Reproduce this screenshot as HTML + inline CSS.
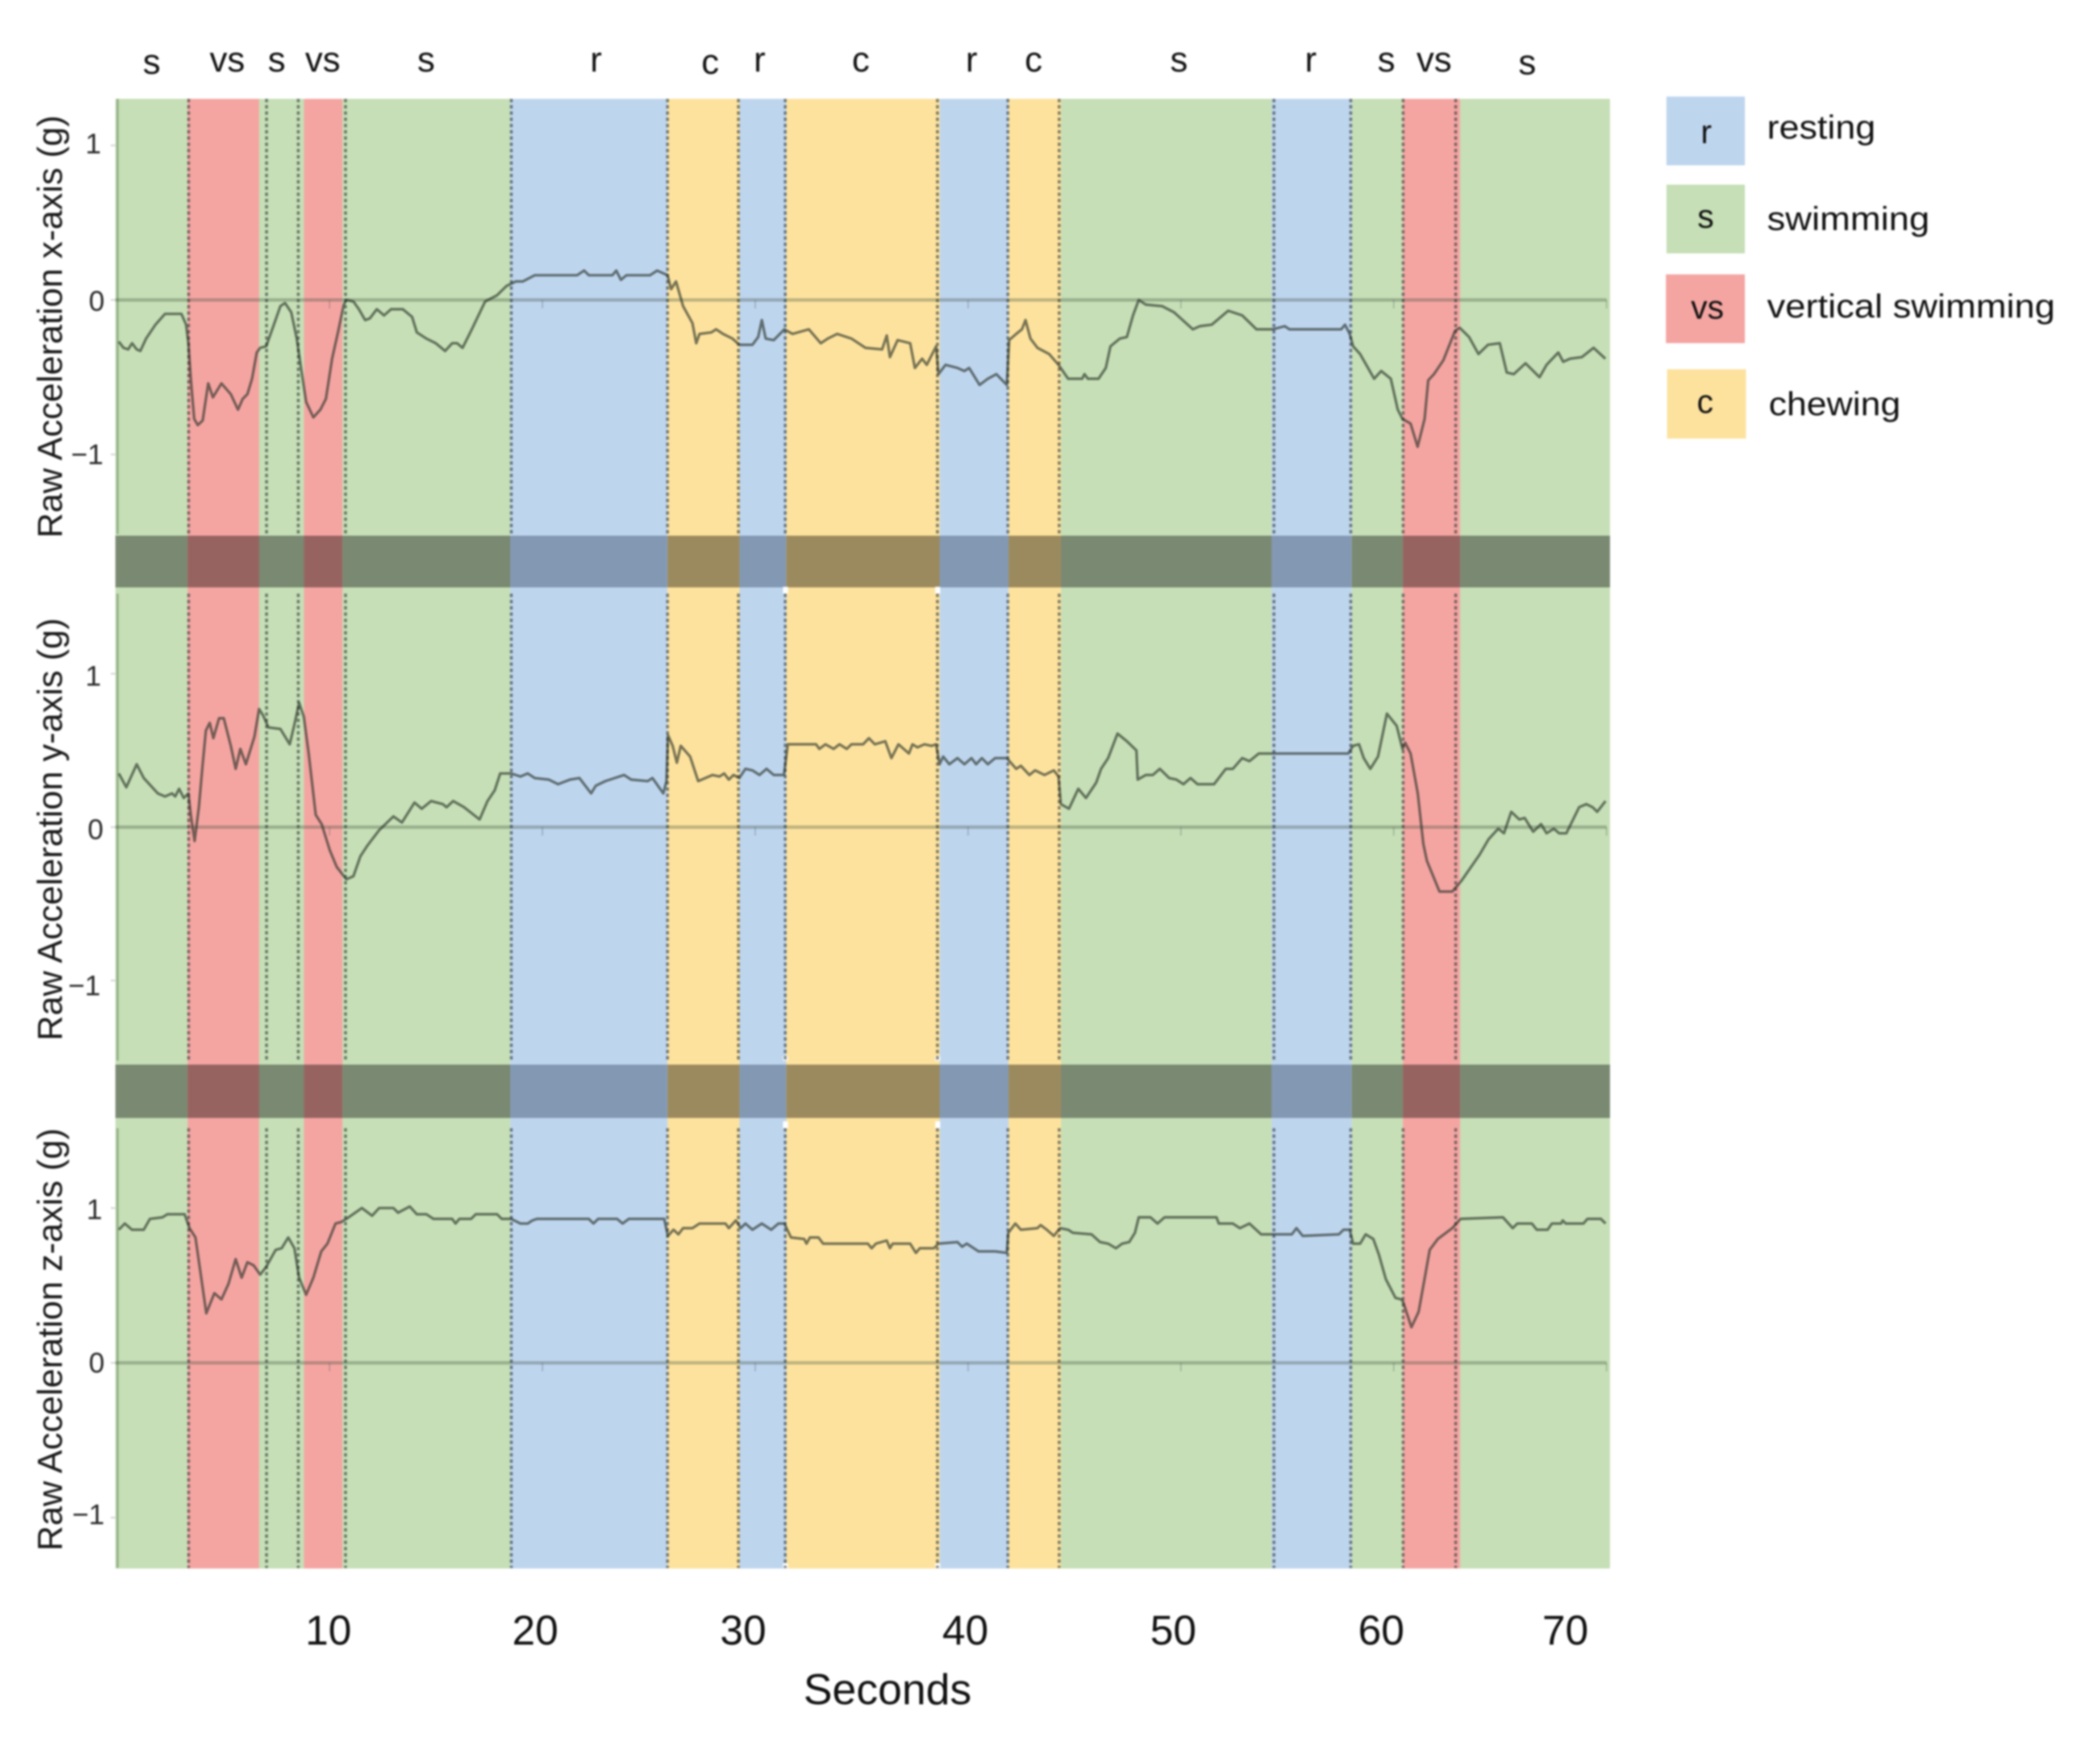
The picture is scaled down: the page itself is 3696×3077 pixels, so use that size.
<!DOCTYPE html>
<html lang="en">
<head>
<meta charset="utf-8">
<title>Raw acceleration by behaviour</title>
<style>
  html, body { margin: 0; padding: 0; background: #fff; }
  svg { display: block; }
  text { font-family: "Liberation Sans", sans-serif; fill: #111; }
  .soft { filter: blur(1.7px); }
  .ytick { font-size: 50px; fill: #2a2a2a; text-anchor: end; }
  .ytitle { font-size: 61px; text-anchor: middle; fill: #1a1a1a; }
  .xtick { font-size: 73px; text-anchor: middle; }
  .top { font-size: 62px; text-anchor: middle; }
  .leg { font-size: 58px; }
  .swl { font-size: 58px; text-anchor: middle; }
</style>
</head>
<body>
<svg id="chart" xmlns="http://www.w3.org/2000/svg" width="3696" height="3077" viewBox="0 0 3696 3077">
  <g id="plot" class="soft"></g>

  <g class="soft">
    <text class="top" x="267" y="130">s</text>
    <text class="top" x="400" y="126">vs</text>
    <text class="top" x="487" y="126">s</text>
    <text class="top" x="568" y="126">vs</text>
    <text class="top" x="750" y="126">s</text>
    <text class="top" x="1049" y="126">r</text>
    <text class="top" x="1250" y="130">c</text>
    <text class="top" x="1337" y="126">r</text>
    <text class="top" x="1515" y="126">c</text>
    <text class="top" x="1710" y="126">r</text>
    <text class="top" x="1819" y="126">c</text>
    <text class="top" x="2075" y="126">s</text>
    <text class="top" x="2307" y="126">r</text>
    <text class="top" x="2440" y="126">s</text>
    <text class="top" x="2524" y="126">vs</text>
    <text class="top" x="2688" y="131">s</text>
  </g>

  <g class="soft">
    <text class="ytitle" transform="translate(109,575) rotate(-90)" textLength="744" lengthAdjust="spacingAndGlyphs">Raw Acceleration x-axis (g)</text>
    <text class="ytitle" transform="translate(109,1460) rotate(-90)" textLength="744" lengthAdjust="spacingAndGlyphs">Raw Acceleration y-axis (g)</text>
    <text class="ytitle" transform="translate(109,2358) rotate(-90)" textLength="744" lengthAdjust="spacingAndGlyphs">Raw Acceleration z-axis (g)</text>

    <text class="ytick" x="178" y="270">1</text>
    <text class="ytick" x="184" y="547">0</text>
    <text class="ytick" x="182" y="817">−1</text>
    <text class="ytick" x="178" y="1207">1</text>
    <text class="ytick" x="182" y="1477">0</text>
    <text class="ytick" x="177" y="1752">−1</text>
    <text class="ytick" x="180" y="2146">1</text>
    <text class="ytick" x="184" y="2416">0</text>
    <text class="ytick" x="184" y="2683">−1</text>
  </g>

  <g class="soft">
    <text class="xtick" x="578" y="2895">10</text>
    <text class="xtick" x="942" y="2895">20</text>
    <text class="xtick" x="1308" y="2895">30</text>
    <text class="xtick" x="1699" y="2895">40</text>
    <text class="xtick" x="2065" y="2895">50</text>
    <text class="xtick" x="2431" y="2895">60</text>
    <text class="xtick" x="2755" y="2895">70</text>
    <text x="1562" y="3000" text-anchor="middle" font-size="76">Seconds</text>
  </g>

  <g class="soft">
    <g>
      <rect x="2933" y="170" width="138" height="121" fill="#bed5ee"/>
      <text class="swl" x="3003" y="252">r</text>
      <text class="leg" x="3110" y="244" textLength="191" lengthAdjust="spacingAndGlyphs">resting</text>
    </g>
    <g>
      <rect x="2933" y="325" width="138" height="121" fill="#c6dfb6"/>
      <text class="swl" x="3002" y="401">s</text>
      <text class="leg" x="3110" y="405" textLength="286" lengthAdjust="spacingAndGlyphs">swimming</text>
    </g>
    <g>
      <rect x="2932" y="483" width="139" height="121" fill="#f4a5a2"/>
      <text class="swl" x="3005" y="561">vs</text>
      <text class="leg" x="3110" y="559" textLength="507" lengthAdjust="spacingAndGlyphs">vertical swimming</text>
    </g>
    <g>
      <rect x="2934" y="650" width="139" height="122" fill="#fde29e"/>
      <text class="swl" x="3001" y="727">c</text>
      <text class="leg" x="3113" y="731" textLength="232" lengthAdjust="spacingAndGlyphs">chewing</text>
    </g>
  </g>
</svg>

<script>
// ---- data ----
const segmentKinds = ['s','vs','s','vs','s','r','c','r','c','r','c','s','r','s','vs','s'];
const segmentEnds = [3.33,6.69,8.80,10.61,18.49,25.88,29.26,31.46,38.67,41.90,44.37,54.26,58.03,60.43,63.12,70.16];
const recordingStart = -0.06;
const boundaryTimes = [0.04,3.38,7.04,8.53,10.75,18.54,25.88,29.21,31.41,38.56,41.87,44.28,54.37,57.98,60.44,62.91];
const gapTimes = [31.41,38.56];
const tickSeconds = [10,20,30,40,50,60,70];

const timeX = [0.10,0.32,0.54,0.72,0.94,1.11,1.38,1.82,2.27,3.04,3.26,3.37,3.48,3.64,3.81,4.04,4.19,4.30,4.52,4.92,5.36,5.70,5.92,6.14,6.36,6.58,6.74,7.02,7.36,7.69,7.91,8.20,8.46,8.68,8.90,9.24,9.57,9.83,10.12,10.41,10.67,10.79,11.12,11.38,11.67,11.89,12.22,12.56,12.89,13.44,13.88,14.10,14.55,14.99,15.43,15.76,15.99,16.25,16.65,17.31,17.87,18.31,18.75,19.08,19.64,21.63,21.96,22.18,23.29,23.47,23.69,23.95,25.06,25.39,25.88,26.05,26.28,26.61,27.05,27.23,27.38,27.94,28.16,28.49,28.93,29.25,29.87,30.14,30.31,30.49,30.87,31.37,31.75,32.52,33.08,33.41,33.85,34.52,35.18,35.96,36.18,36.33,36.69,37.28,37.50,37.84,38.06,38.50,38.61,38.94,39.50,39.83,40.05,40.54,40.93,41.33,41.82,41.93,42.26,42.53,42.70,42.93,43.26,43.81,44.25,44.70,45.36,45.47,45.63,46.13,46.47,46.69,47.13,47.46,47.75,48.02,48.35,49.12,49.68,50.56,50.89,51.45,52.22,52.88,53.55,54.32,54.88,55.10,57.53,57.71,57.93,58.09,58.42,59.08,59.41,59.86,60.19,60.41,60.79,61.12,61.45,61.62,61.89,62.33,62.88,63.10,63.54,63.98,64.43,64.98,65.31,65.64,66.19,66.85,67.18,67.73,67.96,68.29,68.84,69.39,69.94];
const accelX = [-0.27,-0.31,-0.32,-0.28,-0.32,-0.33,-0.25,-0.16,-0.09,-0.09,-0.16,-0.28,-0.51,-0.77,-0.81,-0.78,-0.64,-0.54,-0.63,-0.54,-0.61,-0.71,-0.64,-0.61,-0.51,-0.34,-0.31,-0.30,-0.17,-0.04,-0.02,-0.08,-0.25,-0.46,-0.66,-0.76,-0.71,-0.64,-0.38,-0.20,-0.03,0.00,-0.01,-0.06,-0.13,-0.12,-0.06,-0.10,-0.06,-0.06,-0.11,-0.21,-0.25,-0.28,-0.33,-0.28,-0.28,-0.31,-0.20,-0.01,0.03,0.09,0.12,0.12,0.16,0.16,0.19,0.16,0.16,0.19,0.13,0.16,0.16,0.19,0.16,0.07,0.12,-0.04,-0.15,-0.28,-0.22,-0.21,-0.19,-0.22,-0.25,-0.29,-0.29,-0.24,-0.13,-0.25,-0.26,-0.19,-0.22,-0.19,-0.28,-0.25,-0.22,-0.25,-0.31,-0.32,-0.23,-0.37,-0.26,-0.28,-0.44,-0.38,-0.42,-0.30,-0.48,-0.42,-0.44,-0.46,-0.44,-0.55,-0.51,-0.48,-0.55,-0.26,-0.22,-0.19,-0.13,-0.25,-0.31,-0.35,-0.42,-0.51,-0.51,-0.48,-0.51,-0.51,-0.44,-0.30,-0.25,-0.24,-0.10,0.00,-0.03,-0.04,-0.08,-0.19,-0.17,-0.16,-0.07,-0.10,-0.19,-0.19,-0.17,-0.19,-0.19,-0.16,-0.22,-0.30,-0.35,-0.51,-0.46,-0.51,-0.71,-0.77,-0.80,-0.95,-0.77,-0.52,-0.48,-0.39,-0.20,-0.18,-0.24,-0.35,-0.29,-0.28,-0.47,-0.48,-0.41,-0.50,-0.42,-0.34,-0.40,-0.38,-0.37,-0.31,-0.38];

const timeY = [0.10,0.45,0.94,1.27,1.93,2.27,2.60,2.75,2.93,3.15,3.37,3.48,3.66,3.86,4.04,4.19,4.37,4.54,4.81,5.03,5.36,5.59,5.81,6.07,6.47,6.69,6.87,7.13,7.69,8.13,8.35,8.57,8.79,9.02,9.35,9.63,10.01,10.34,10.79,11.12,11.45,11.78,12.33,13.00,13.40,13.99,14.33,14.77,15.32,15.50,15.81,16.32,17.05,17.42,17.76,18.02,18.53,18.97,19.31,19.64,20.30,20.74,21.30,21.74,22.29,22.51,22.96,23.84,24.17,24.95,25.17,25.68,25.83,25.90,26.12,26.32,26.50,26.94,27.32,27.99,28.32,28.54,28.76,28.98,29.25,29.54,29.87,30.20,30.53,30.87,31.35,31.53,32.86,33.01,33.30,33.68,33.96,34.30,34.52,35.07,35.34,35.62,36.11,36.40,36.73,37.22,37.39,37.62,37.95,38.28,38.50,38.66,38.83,39.12,39.50,39.83,40.16,40.38,40.65,40.93,41.27,41.82,42.26,42.48,42.88,43.15,43.59,44.03,44.25,44.36,44.74,45.18,45.54,46.02,46.25,46.58,47.02,47.46,47.91,47.97,48.35,48.68,49.01,49.45,49.79,50.12,50.45,50.78,51.56,52.11,52.44,52.88,53.22,53.66,57.86,58.09,58.37,58.59,58.90,59.26,59.68,60.14,60.41,60.54,60.79,61.13,61.39,61.56,62.15,62.75,63.18,64.03,64.45,64.91,65.18,65.52,65.90,66.15,66.55,66.92,67.18,67.52,67.77,68.11,68.71,69.05,69.34,69.56,69.95];
const accelY = [0.35,0.26,0.41,0.32,0.22,0.20,0.22,0.20,0.25,0.19,0.22,0.08,-0.09,0.13,0.41,0.63,0.68,0.58,0.71,0.71,0.53,0.38,0.51,0.41,0.59,0.77,0.73,0.65,0.64,0.54,0.67,0.81,0.72,0.48,0.08,0.02,-0.15,-0.26,-0.34,-0.32,-0.19,-0.12,-0.02,0.07,0.03,0.16,0.12,0.17,0.15,0.13,0.17,0.13,0.05,0.17,0.24,0.35,0.35,0.33,0.35,0.32,0.31,0.28,0.31,0.32,0.22,0.27,0.30,0.34,0.31,0.30,0.32,0.22,0.30,0.60,0.53,0.42,0.53,0.46,0.30,0.34,0.33,0.35,0.31,0.34,0.32,0.38,0.37,0.34,0.38,0.34,0.34,0.54,0.54,0.51,0.54,0.51,0.54,0.51,0.54,0.54,0.58,0.54,0.56,0.45,0.54,0.48,0.54,0.52,0.54,0.53,0.54,0.41,0.46,0.41,0.45,0.41,0.45,0.41,0.45,0.41,0.45,0.45,0.38,0.40,0.34,0.37,0.34,0.37,0.33,0.15,0.12,0.25,0.19,0.29,0.38,0.45,0.61,0.56,0.50,0.31,0.34,0.34,0.38,0.32,0.31,0.28,0.32,0.28,0.28,0.38,0.38,0.45,0.43,0.48,0.48,0.53,0.54,0.45,0.38,0.46,0.74,0.66,0.51,0.55,0.48,0.22,-0.11,-0.22,-0.42,-0.42,-0.35,-0.18,-0.08,-0.01,-0.04,0.10,0.05,0.06,-0.03,0.02,-0.04,-0.01,-0.04,-0.04,0.13,0.15,0.13,0.10,0.17];

const timeZ = [0.10,0.38,0.72,1.27,1.56,2.15,2.38,3.19,3.42,3.70,3.93,4.21,4.59,4.92,5.25,5.59,5.87,6.14,6.43,6.74,7.02,7.47,7.75,8.06,8.35,8.57,8.90,9.24,9.61,9.90,10.28,10.56,10.90,11.52,12.00,12.33,13.00,13.22,13.77,14.10,14.55,14.88,15.76,15.92,16.10,16.65,16.87,17.87,18.09,18.53,18.97,19.31,19.53,19.75,22.18,22.40,22.62,23.51,23.77,24.06,25.72,25.90,26.16,26.39,26.61,27.05,27.38,28.60,28.76,29.09,29.32,29.54,29.87,30.31,30.75,31.09,31.37,31.68,32.30,32.41,32.57,32.97,33.19,35.29,35.47,35.67,36.18,36.33,36.46,37.28,37.55,37.73,38.39,38.61,39.50,39.72,39.94,40.49,41.27,41.82,41.89,42.22,42.48,43.26,43.41,43.70,44.03,44.32,44.70,44.92,45.80,46.20,46.58,46.95,47.24,47.57,47.84,48.02,48.57,48.90,49.23,51.67,51.78,52.44,52.77,53.22,53.77,55.21,55.43,55.72,57.42,57.64,57.93,58.09,58.42,58.68,59.04,59.30,59.63,60.08,60.36,60.45,60.83,61.17,61.47,61.69,62.07,62.75,63.14,65.13,65.59,65.81,66.49,66.72,67.23,67.43,67.86,67.94,68.08,68.91,69.10,69.73,69.95];
const accelZ = [0.86,0.90,0.86,0.86,0.93,0.94,0.96,0.96,0.87,0.81,0.59,0.32,0.45,0.41,0.51,0.67,0.55,0.65,0.63,0.57,0.62,0.73,0.74,0.81,0.74,0.55,0.44,0.55,0.72,0.77,0.90,0.91,0.94,1.00,0.95,1.00,1.00,0.97,1.01,0.96,0.96,0.93,0.93,0.90,0.93,0.93,0.96,0.96,0.93,0.93,0.90,0.90,0.92,0.93,0.93,0.90,0.93,0.93,0.90,0.93,0.93,0.82,0.86,0.83,0.87,0.87,0.90,0.90,0.87,0.92,0.87,0.90,0.86,0.90,0.86,0.90,0.90,0.81,0.80,0.77,0.81,0.81,0.77,0.77,0.74,0.77,0.79,0.74,0.77,0.77,0.71,0.74,0.74,0.77,0.78,0.75,0.77,0.72,0.72,0.71,0.84,0.90,0.86,0.87,0.89,0.86,0.82,0.87,0.86,0.84,0.83,0.78,0.77,0.74,0.77,0.78,0.84,0.94,0.94,0.90,0.94,0.94,0.90,0.90,0.87,0.90,0.83,0.83,0.87,0.82,0.83,0.86,0.86,0.77,0.77,0.83,0.80,0.70,0.54,0.42,0.41,0.39,0.23,0.33,0.56,0.73,0.80,0.87,0.93,0.94,0.87,0.90,0.90,0.86,0.86,0.90,0.90,0.92,0.90,0.90,0.93,0.93,0.90];

// ---- layout and axis functions ----
const PANEL_LEFT = 203;
const PANEL_RIGHT = 2834;
const PANEL_TOP = 174;
const PANEL_BOTTOM = 2761;
const PX_PER_SECOND = 37.46;
const ORIGIN_X = 205.4;
const NS = 'http://www.w3.org/2000/svg';
const colours = { s: '#c6dfb6', vs: '#f4a5a2', r: '#bed5ee', c: '#fde29e' };
const bandColours = { s: '#7a8971', vs: '#966361', r: '#8399b3', c: '#9c8a5f' };

function xScale(seconds) { return ORIGIN_X + seconds * PX_PER_SECOND; }
function yScale(panel, g) { return panel.zero - g * panel.pxPerG; }
function make(tag, attrs) {
  const el = document.createElementNS(NS, tag);
  for (const k in attrs) el.setAttribute(k, attrs[k]);
  return el;
}

const plot = document.getElementById('plot');
const panels = [
  { id: 'x', zero: 528, pxPerG: 272, top: 174, bottom: 940, times: timeX, values: accelX },
  { id: 'y', zero: 1456, pxPerG: 270, top: 1045, bottom: 1867, times: timeY, values: accelY },
  { id: 'z', zero: 2399, pxPerG: 272.5, top: 1986, bottom: 2760, times: timeZ, values: accelZ }
];

// behaviour background segments, with their darker portions in the separator bands
let segStart = recordingStart;
segmentKinds.forEach(function (kind, i) {
  const x0 = Math.max(PANEL_LEFT, xScale(segStart));
  const x1 = Math.min(PANEL_RIGHT, xScale(segmentEnds[i]));
  const seg = make('rect', { x: x0, y: PANEL_TOP, width: x1 - x0, height: PANEL_BOTTOM - PANEL_TOP, fill: colours[kind] });
  
  
  plot.appendChild(seg);
  [[943, 91], [1874, 94]].forEach(function (band, b) {
    const rect = make('rect', { x: x0, y: band[0], width: x1 - x0, height: band[1], fill: bandColours[kind] });
    
    
    plot.appendChild(rect);
  });
  segStart = segmentEnds[i];
});

// small white gaps between neighbouring segments near the panel ends
panels.slice(1).forEach(function (panel) {
  gapTimes.forEach(function (t) {
    [[panel.top - 12, 12], [panel.bottom - 8, 8]].forEach(function (part) {
      const gap = make('rect', { x: xScale(t) - 4, y: part[0], width: 9, height: part[1], fill: '#ffffff' });
      
      
      plot.appendChild(gap);
    });
  });
});

panels.forEach(function (panel) {
  const group = make('g', {});
  
  
  plot.appendChild(group);

  // boundary dashes
  boundaryTimes.forEach(function (t, i) {
    const x = xScale(t);
    const first = i === 0;
    const dash = make('line', {
      x1: x, x2: x, y1: panel.top, y2: panel.bottom,
      stroke: first ? 'rgba(50,90,50,0.35)' : 'rgba(45,55,55,0.6)',
      'stroke-width': first ? 4 : 5,
      'stroke-dasharray': first ? 'none' : '6 5'
    });
    
    
    group.appendChild(dash);
  });

  // zero line
  const zeroLine = make('line', {
    x1: PANEL_LEFT, x2: xScale(70.0), y1: yScale(panel, 0), y2: yScale(panel, 0),
    stroke: 'rgba(50,70,50,0.3)', 'stroke-width': 6
  });
  
  
  group.appendChild(zeroLine);

  // x ticks under the zero line
  tickSeconds.forEach(function (t) {
    const tick = make('line', {
      x1: xScale(t), x2: xScale(t), y1: yScale(panel, 0), y2: yScale(panel, 0) + 15,
      stroke: 'rgba(70,80,90,0.28)', 'stroke-width': 2.5
    });
    
    
    group.appendChild(tick);
  });

  // y ticks
  [-1, 0, 1].forEach(function (g) {
    const tick = make('line', {
      x1: PANEL_LEFT - 8, x2: PANEL_LEFT, y1: yScale(panel, g), y2: yScale(panel, g),
      stroke: 'rgba(120,120,120,0.3)', 'stroke-width': 3
    });
    
    
    group.appendChild(tick);
  });

  // acceleration trace
  const d = panel.times.map(function (t, i) {
    return (i ? 'L' : 'M') + xScale(t).toFixed(1) + ' ' + yScale(panel, panel.values[i]).toFixed(1);
  }).join('');
  const trace = make('path', {
    d: d, fill: 'none', stroke: 'rgba(35,45,35,0.62)', 'stroke-width': 4.6, 'stroke-linejoin': 'round'
  });
  
  
  group.appendChild(trace);
});
</script>
</body>
</html>
